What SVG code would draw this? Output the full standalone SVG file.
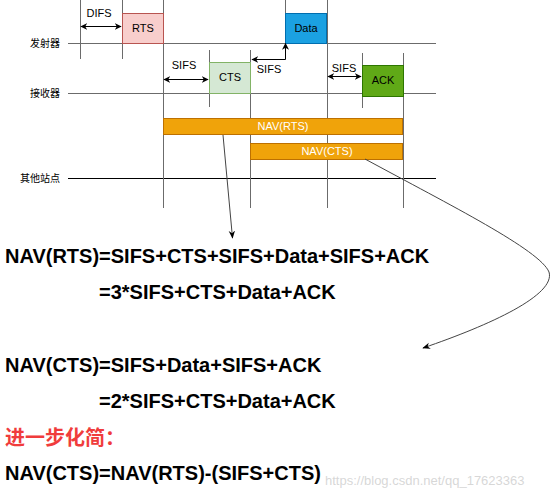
<svg xmlns="http://www.w3.org/2000/svg" width="554" height="500" viewBox="0 0 554 500">
<style>
.lbl{font-family:"Liberation Sans","Noto Sans CJK SC",sans-serif;font-size:10px;fill:#000}
.sm{font-family:"Liberation Sans",Arial,sans-serif;font-size:11px;fill:#000;text-anchor:middle}
.nav{font-family:"Liberation Sans",Arial,sans-serif;font-size:11px;fill:#fff;text-anchor:middle}
.eq{font-family:"Liberation Sans",Arial,sans-serif;font-size:20px;font-weight:bold;fill:#000}
.red{font-family:"Liberation Sans","Noto Sans CJK SC",sans-serif;font-size:20px;font-weight:bold;fill:#f03c3c}
.vl{stroke:#6b6b6b;stroke-width:1;fill:none}
.tl{stroke:#6b6b6b;stroke-width:1;fill:none}
.arr{stroke:#000;stroke-width:1;fill:none;marker-start:url(#ah);marker-end:url(#ah)}
.con{stroke:#444;stroke-width:1;fill:none;marker-end:url(#ah2)}
</style>
<defs>
<marker id="ah" viewBox="0 0 10 10" refX="9" refY="5" markerWidth="7" markerHeight="7" orient="auto-start-reverse" markerUnits="userSpaceOnUse"><path d="M0,0 L10,5 L0,10 L3,5 z" fill="#000"/></marker>
<marker id="ah2" viewBox="0 0 10 10" refX="9" refY="5" markerWidth="8" markerHeight="8" orient="auto" markerUnits="userSpaceOnUse"><path d="M0,1 L10,5 L0,9 L3,5 z" fill="#000"/></marker>
</defs>

<g id="axes">
<line class="tl" x1="68" y1="43.5" x2="436" y2="43.5"/>
<line class="tl" x1="68" y1="93.5" x2="436" y2="93.5"/>
<line x1="68" y1="178.5" x2="436" y2="178.5" stroke="#000" stroke-width="1"/>
<text class="lbl" x="30" y="47">发射器</text>
<text class="lbl" x="30" y="97">接收器</text>
<text class="lbl" x="20" y="182">其他站点</text>
</g>

<g id="vlines">
<line class="vl" x1="80.5" y1="0" x2="80.5" y2="59"/>
<line class="vl" x1="122.5" y1="0" x2="122.5" y2="59"/>
<line class="vl" x1="163.5" y1="0" x2="163.5" y2="208"/>
<line class="vl" x1="209.5" y1="50" x2="209.5" y2="107"/>
<line class="vl" x1="250.5" y1="50" x2="250.5" y2="208"/>
<line class="vl" x1="285.5" y1="0" x2="285.5" y2="13"/>
<line class="vl" x1="327.5" y1="0" x2="327.5" y2="208"/>
<line class="vl" x1="362.5" y1="53" x2="362.5" y2="108"/>
<line class="vl" x1="403.5" y1="53" x2="403.5" y2="208"/>
</g>

<g id="RTS">
<rect x="122.5" y="13.5" width="41" height="30" fill="#f8cecc" stroke="#b85450"/>
<text class="sm" x="143" y="32">RTS</text>
</g>
<g id="CTS">
<rect x="209.5" y="62.5" width="41" height="31" fill="#d5e8d4" stroke="#82b366"/>
<text class="sm" x="230" y="81">CTS</text>
</g>
<g id="Data">
<rect x="285.5" y="13.5" width="41" height="30" fill="#1ba1e2" stroke="#006eaf"/>
<text class="sm" x="306" y="32">Data</text>
</g>
<g id="ACK">
<rect x="362.5" y="65.5" width="41" height="31" fill="#60a917" stroke="#2d7600"/>
<text class="sm" x="383" y="84">ACK</text>
</g>
<g id="NAVRTS">
<rect x="163.5" y="118.5" width="239" height="16" fill="#f0a30a" stroke="#bd7000"/>
<text class="nav" x="283" y="130">NAV(RTS)</text>
</g>
<g id="NAVCTS">
<rect x="250.5" y="143.5" width="152" height="16" fill="#f0a30a" stroke="#bd7000"/>
<text class="nav" x="327" y="155">NAV(CTS)</text>
</g>

<g id="intervals">
<line class="arr" x1="81" y1="26.5" x2="121" y2="26.5"/>
<text class="sm" x="99" y="17">DIFS</text>
<line class="arr" x1="164" y1="79.5" x2="208" y2="79.5"/>
<text class="sm" x="184" y="69">SIFS</text>
<path d="M285.5 43.5 L285.5 59.5 L252 59.5" stroke="#000" fill="none" marker-start="url(#ah)" marker-end="url(#ah)"/>
<text class="sm" x="269" y="73">SIFS</text>
<line class="arr" x1="328" y1="76.5" x2="361" y2="76.5"/>
<text class="sm" x="344" y="72">SIFS</text>
</g>

<g id="connectors">
<line class="con" x1="223" y1="135" x2="232.5" y2="238"/>
<path class="con" d="M365 159 C 450 205, 540 250, 549 272 C 556 295, 490 325, 423 348"/>
</g>

<g id="formulas">
<text class="eq" x="5" y="263">NAV(RTS)=SIFS+CTS+SIFS+Data+SIFS+ACK</text>
<text class="eq" x="99" y="299">=3*SIFS+CTS+Data+ACK</text>
<text class="eq" x="5" y="372">NAV(CTS)=SIFS+Data+SIFS+ACK</text>
<text class="eq" x="99" y="408">=2*SIFS+CTS+Data+ACK</text>
<text class="red" x="5" y="445">进一步化简：</text>
<text class="eq" x="5" y="480">NAV(CTS)=NAV(RTS)-(SIFS+CTS)</text>
<text x="325" y="485" font-family="Liberation Sans,Arial,sans-serif" font-size="13" fill="#d0d0d0" fill-opacity="0.85">https://blog.csdn.net/qq_17623363</text>
</g>
</svg>
